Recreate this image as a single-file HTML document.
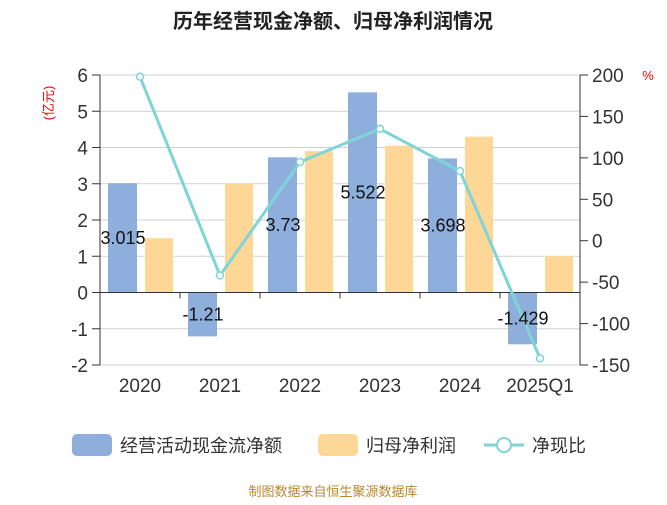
<!DOCTYPE html>
<html><head><meta charset="utf-8"><style>
body{margin:0;background:#fff;font-family:"Liberation Sans","Noto Sans CJK SC",sans-serif}
</style></head><body>
<svg id="c" width="667" height="500" xmlns="http://www.w3.org/2000/svg" font-family="Liberation Sans, Noto Sans CJK SC, sans-serif">
<text x="333" y="28" text-anchor="middle" font-size="20" font-weight="bold" fill="#222">历年经营现金净额、归母净利润情况</text>
<text transform="translate(53,103) rotate(-90)" text-anchor="middle" font-size="13" fill="#e00">(亿元)</text>
<text x="648" y="80" text-anchor="middle" font-size="13" fill="#e00">%</text>
<g id="grid"></g><g id="bars"></g><g id="axes"></g><g id="line"></g><g id="labels"></g>
<g>
<rect x="72" y="434" width="40" height="22" rx="5" fill="#8eaedc"/>
<text x="120" y="452" font-size="18" fill="#333">经营活动现金流净额</text>
<rect x="318" y="434" width="40" height="22" rx="5" fill="#fdd796"/>
<text x="366" y="452" font-size="18" fill="#333">归母净利润</text>
<line x1="484" y1="445" x2="524" y2="445" stroke="#7fd4d8" stroke-width="3"/>
<circle cx="504" cy="445" r="7" fill="#fff" stroke="#7fd4d8" stroke-width="2"/>
<text x="532" y="452" font-size="18" fill="#333">净现比</text>
</g>
<text x="333" y="496" text-anchor="middle" font-size="13" fill="#b8862b">制图数据来自恒生聚源数据库</text>
</svg>
<script>
const categories=["2020","2021","2022","2023","2024","2025Q1"];
const cashflow=[3.015,-1.21,3.73,5.522,3.698,-1.429];
const profit=[1.5,3.0,3.9,4.05,4.3,1.0];
const ratio=[198,-42,95,135,84,-142];
const leftTicks=[6,5,4,3,2,1,0,-1,-2];
const rightTicks=[200,150,100,50,0,-50,-100,-150];
const NS="http://www.w3.org/2000/svg";
const X0=100,X1=580,T=75,B=365;
const yL=v=>T+(6-v)*(B-T)/8;
const yR=v=>T+(200-v)*(B-T)/350;
const cx=i=>X0+(i+0.5)*(X1-X0)/categories.length;
function mk(tag,at,parent){const e=document.createElementNS(NS,tag);for(const k in at)e.setAttribute(k,at[k]);document.getElementById(parent).appendChild(e);return e;}
leftTicks.forEach(v=>{
 const l=mk('line',{x1:X0,x2:X1,y1:yL(v),y2:yL(v),stroke:'#d0d0d0','stroke-width':1},'grid');
 
 
 const t=mk('line',{x1:X0-8,x2:X0,y1:yL(v),y2:yL(v),stroke:'#333'},'axes');
 
 
 const tx=mk('text',{x:X0-12,y:yL(v)+7,'text-anchor':'end','font-size':19,fill:'#333'},'axes');
 tx.textContent=v;
 
 
});
rightTicks.forEach(v=>{
 const t=mk('line',{x1:X1,x2:X1+8,y1:yR(v),y2:yR(v),stroke:'#333'},'axes');
 
 
 const tx=mk('text',{x:X1+12,y:yR(v)+7,'text-anchor':'start','font-size':19,fill:'#333'},'axes');
 tx.textContent=v;
 
 
});
let a=mk('line',{x1:X0,x2:X0,y1:T,y2:B,stroke:'#333'},'axes');


a=mk('line',{x1:X1,x2:X1,y1:T,y2:B,stroke:'#333'},'axes');


a=mk('line',{x1:X0,x2:X1,y1:yL(0),y2:yL(0),stroke:'#333'},'axes');


categories.forEach((c,i)=>{
 const x=cx(i);
 if(i>0){const t=mk('line',{x1:X0+i*80,x2:X0+i*80,y1:yL(0),y2:yL(0)+6,stroke:'#333'},'axes');
 
 }
 const tx=mk('text',{x:x,y:392,'text-anchor':'middle','font-size':19,fill:'#333'},'axes');
 tx.textContent=c;
 
 
 const v=cashflow[i];
 const b=mk('rect',{x:x-32,width:29,y:Math.min(yL(v),yL(0)),height:Math.abs(yL(v)-yL(0)),fill:'#8eaedc'},'bars');
 
 
 const p=profit[i];
 const o=mk('rect',{x:x+5,width:28,y:Math.min(yL(p),yL(0)),height:Math.abs(yL(p)-yL(0)),fill:'#fdd796'},'bars');
 
 
 const lb=mk('text',{x:x-17,y:(yL(v)+yL(0))/2+6,'text-anchor':'middle','font-size':18,fill:'#111'},'labels');
 lb.textContent=v;
 
 
});
const pts=ratio.map((v,i)=>cx(i)+','+yR(v)).join(' ');
const pl=mk('polyline',{points:pts,fill:'none',stroke:'#7fd4d8','stroke-width':3},'line');


ratio.forEach((v,i)=>{
 const c=mk('circle',{cx:cx(i),cy:yR(v),r:3.5,fill:'#fff',stroke:'#7fd4d8','stroke-width':1.5},'line');
 
 
});
</script>
</body></html>
